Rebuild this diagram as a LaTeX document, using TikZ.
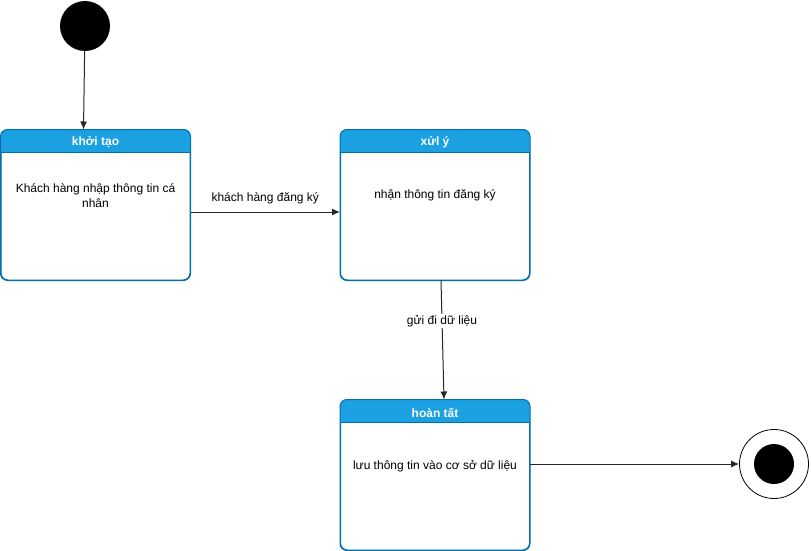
\documentclass[tikz,border=0pt]{standalone}
\usepackage{fontspec}
\setmainfont{Liberation Sans}
\usetikzlibrary{arrows.meta}
\definecolor{hdrblue}{HTML}{1BA1E2}
\definecolor{edgeblue}{HTML}{006EAF}
\tikzset{
  statebox/.style={draw=edgeblue, line width=1pt, fill=white, rounded corners=7pt,
    minimum width=189pt, minimum height=150pt, inner sep=0pt},
  titletext/.style={text=white, font=\fontsize{12}{14}\selectfont\bfseries},
  bodytext/.style={font=\fontsize{12}{15}\selectfont, align=center},
  flowlabel/.style={font=\fontsize{12}{14}\selectfont},
  flow/.style={draw=black!85, line width=1pt, -{Latex[length=8pt,width=7pt]}},
}
\begin{document}
\begin{tikzpicture}[x=1pt,y=1pt]
	\useasboundingbox (0,0) rectangle (811,-551);
	% states
	\node[statebox] (ktao) at (95.5,-205) {};
	\node[statebox] (xuly) at (435,-205) {};
	\node[statebox] (htat) at (435,-475) {};
	\foreach \s in {ktao,xuly,htat}{
		\begin{scope}
		\clip[rounded corners=7pt] (\s.north west) rectangle (\s.south east);
		\fill[hdrblue] (\s.north west) rectangle ([yshift=-23]\s.north east);
		\end{scope}
		\draw[edgeblue, line width=1pt] ([yshift=-23]\s.north west) -- ([yshift=-23]\s.north east);
		\draw[edgeblue, line width=1pt, rounded corners=7pt] (\s.north west) rectangle (\s.south east);
	}
	\node[titletext] (ktao-t) at ([yshift=-13]ktao.north) {khởi tạo};
	\node[titletext] (xuly-t) at ([yshift=-13]xuly.north) {xửl ý};
	\node[titletext] (htat-t) at ([yshift=-13]htat.north) {hoàn tất};
	\node[bodytext] (ktao-b) at ([yshift=-66]ktao.north) {Khách hàng nhập thông tin cá\\nhân};
	\node[bodytext] (xuly-b) at ([yshift=-66]xuly.north) {nhận thông tin đăng ký};
	\node[bodytext] (htat-b) at ([yshift=-67]htat.north) {lưu thông tin vào cơ sở dữ liệu};
	% start and end
	\node[circle, fill=black, minimum size=50pt, inner sep=0pt] (start) at (85,-26) {};
	\node[circle, draw=black, line width=0.8pt, fill=white, minimum size=69pt, inner sep=0pt] (finish) at (774,-464) {};
	\node[circle, fill=black, minimum size=40pt, inner sep=0pt] (finish-in) at (finish) {};
	% transitions
	\draw[flow] (start) -- ([xshift=-12]ktao.north);
	\draw[flow] ([yshift=-7]ktao.east) -- node[flowlabel, above=4pt] (lbl1) {khách hàng đăng ký} ([yshift=-7]xuly.west);
	\draw[flow] ([xshift=6]xuly.south) -- node[flowlabel, fill=white, pos=0.34, inner sep=1pt] (lbl2) {gửi đi dữ liệu} ([xshift=9]htat.north);
	\draw[flow] ([yshift=11]htat.east) -- (finish.west);
\end{tikzpicture}
\end{document}
